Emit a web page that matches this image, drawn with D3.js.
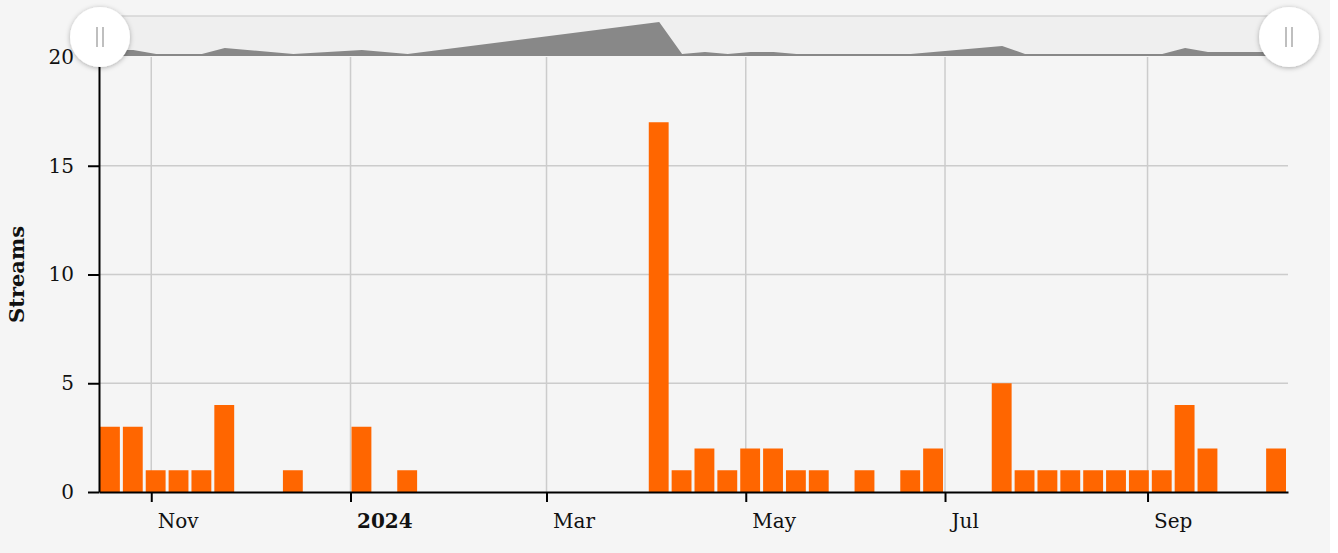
<!DOCTYPE html>
<html>
<head>
<meta charset="utf-8">
<script src="https://cdn.jsdelivr.net/npm/d3@7"></script>
<style>
  html, body { margin: 0; padding: 0; background: #ffffff; }
  svg { display: block; }
  .lbl { font-family: "DejaVu Serif", "Liberation Serif", serif; fill: #111; }
</style>
</head>
<body>
<svg id="chart" width="1330" height="553"></svg>
<script>
// ---- data: weekly stream counts, weeks starting Monday ----
const firstWeek = "2023-10-16";
const weeklyStreams = [
  3, 3, 1, 1, 1, 4, 0, 0, 1, 0,
  0, 3, 0, 1, 0, 0, 0, 0, 0, 0,
  0, 0, 0, 0, 17, 1, 2, 1, 2, 2,
  1, 1, 0, 1, 0, 1, 2, 0, 0, 5,
  1, 1, 1, 1, 1, 1, 1, 4, 2, 0,
  0, 2
];
const yTicks = [0, 5, 10, 15, 20];
const yLabel = "Streams";

const parse = d3.utcParse("%Y-%m-%d");
const start = parse(firstWeek);
const weeks = weeklyStreams.map((v, i) => ({
  start: d3.utcDay.offset(start, i * 7),
  end: d3.utcDay.offset(start, (i + 1) * 7),
  value: v
}));

const W = 1330, H = 553;
const m = { left: 99, top: 57, right: 1330 - 1288, bottom: 553 - 492 };
const svg = d3.select("#chart");
svg.append("rect").attr("width", W).attr("height", H).attr("fill", "#f5f5f5");

const x = d3.scaleUtc()
  .domain([weeks[0].start, weeks[weeks.length - 1].end])
  .range([m.left, W - m.right]);
const y = d3.scaleLinear().domain([0, 20]).range([H - m.bottom, m.top]);

const monthTicks = d3.utcMonth.every(2).range(weeks[0].start, weeks[weeks.length - 1].end);

// grid
const grid = svg.append("g");
grid.selectAll(".hg").data(yTicks.filter(t => t > 0 && t < 20)).join("line")
  .attr("x1", m.left).attr("x2", W - m.right)
  .attr("y1", d => y(d)).attr("y2", d => y(d))
  .attr("stroke", "#cccccc").attr("stroke-width", 1.5);
grid.selectAll(".vg").data(monthTicks).join("line")
  .attr("x1", d => x(d)).attr("x2", d => x(d))
  .attr("y1", m.top).attr("y2", H - m.bottom)
  .attr("stroke", "#cccccc").attr("stroke-width", 1.5);

// bars
svg.append("g").selectAll("rect").data(weeks.filter(d => d.value > 0)).join("rect")
  .attr("x", d => x(d.start) + 1)
  .attr("width", d => x(d.end) - x(d.start) - 3)
  .attr("y", d => y(d.value))
  .attr("height", d => y(0) - y(d.value))
  .attr("fill", "#ff6600");

// axes
const fmt = d => d.getUTCMonth() === 0 ? d3.utcFormat("%Y")(d) : d3.utcFormat("%b")(d);
const xAxis = svg.append("g").attr("transform", `translate(0,${y(0)})`)
  .call(d3.axisBottom(x).tickValues(monthTicks).tickFormat(fmt).tickSize(10).tickSizeOuter(0));
xAxis.selectAll("text")
  .attr("class", "lbl").attr("text-anchor", "start").attr("x", 6).attr("dy", "0")
  .attr("y", 36)
  .style("font-size", "20px")
  .style("font-weight", d => d.getUTCMonth() === 0 ? "bold" : "normal");

const yAxis = svg.append("g").attr("transform", `translate(${m.left},0)`)
  .call(d3.axisLeft(y).tickValues(yTicks).tickSize(11).tickPadding(14).tickSizeOuter(0));
yAxis.selectAll("text").attr("class", "lbl").style("font-size", "20px");

svg.selectAll(".domain, .tick line").attr("stroke", "#000").attr("stroke-width", 2);

svg.append("text").attr("class", "lbl")
  .attr("transform", `translate(24,${(y(0) + y(20)) / 2}) rotate(-90)`)
  .attr("text-anchor", "middle")
  .style("font-size", "21px").style("font-weight", "bold")
  .text(yLabel);

// overview / brush strip
const ovTop = 16, ovBottom = 56;
svg.append("rect").attr("x", m.left).attr("y", ovTop)
  .attr("width", x.range()[1] + 2 - m.left).attr("height", ovBottom - ovTop)
  .attr("fill", "#efefef");
svg.append("line").attr("x1", m.left).attr("x2", x.range()[1] + 2)
  .attr("y1", ovTop).attr("y2", ovTop).attr("stroke", "#d4d4d4").attr("stroke-width", 1.5);

const yo = d3.scaleLinear().domain([0, d3.max(weeklyStreams)]).range([ovBottom, 22]);
const ovPts = weeks.filter(d => d.value > 0);
svg.append("clipPath").attr("id", "ovclip").append("rect")
  .attr("x", m.left).attr("y", ovTop).attr("width", x.range()[1] + 2 - m.left).attr("height", ovBottom - ovTop);
svg.append("path").datum(ovPts)
  .attr("clip-path", "url(#ovclip)")
  .attr("fill", "#888")
  .attr("d", d3.area()
    .curve(d3.curveLinear)
    .x(d => x(new Date((+d.start + +d.end) / 2)))
    .y0(ovBottom)
    .y1(d => yo(d.value)));

// handles
const defs = svg.append("defs");
const f = defs.append("filter").attr("id", "sh").attr("x", "-50%").attr("y", "-50%").attr("width", "200%").attr("height", "200%");
f.append("feDropShadow").attr("dx", 0).attr("dy", 1).attr("stdDeviation", 2.5).attr("flood-color", "#000").attr("flood-opacity", 0.3);
const handles = svg.append("g").selectAll("g").data([x.range()[0] + 1, x.range()[1] + 1]).join("g")
  .attr("transform", d => `translate(${d},37)`);
handles.append("circle").attr("r", 30).attr("fill", "#fff").attr("filter", "url(#sh)");
handles.selectAll("line").data([-3, 3]).join("line")
  .attr("x1", d => d).attr("x2", d => d).attr("y1", -10).attr("y2", 10)
  .attr("stroke", "#aaa").attr("stroke-width", 1.5);
</script>
</body>
</html>
